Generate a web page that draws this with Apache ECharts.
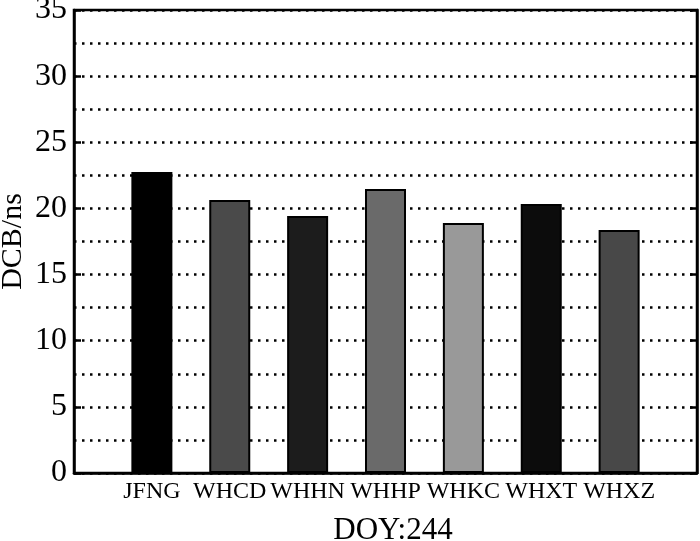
<!DOCTYPE html>
<html>
<head>
<meta charset="utf-8">
<script src="https://cdn.jsdelivr.net/npm/echarts@6/dist/echarts.min.js"></script>
<style>
  html, body { margin: 0; padding: 0; background: #fff; }
  #chart { width: 700px; height: 541px; }
</style>
</head>
<body>
<div id="chart"></div>
<script>
// stations and DCB values (ns), DOY 244
const stations = ['JFNG', 'WHCD', 'WHHN', 'WHHP', 'WHKC', 'WHXT', 'WHXZ'];
const dcbValues = [22.75, 20.64, 19.43, 21.47, 18.9, 20.33, 18.37];
const barColors = ['#000000', '#4a4a4a', '#1c1c1c', '#6a6a6a', '#999999', '#0c0c0c', '#484848'];

const serif = "'Liberation Serif', 'Times New Roman', serif";

// empty slots at both ends so the bars sit inside the frame like the original
const cats = [''].concat(stations, ['']);
const barData = ['-'].concat(dcbValues.map(function (v, i) {
    return { value: v, itemStyle: { color: barColors[i] } };
}), ['-']);

const dotted = { color: '#000', width: 2.5, type: [2.5, 5.5] };

const chart = echarts.init(document.getElementById('chart'));
chart.setOption({
    animation: false,
    backgroundColor: '#fff',
    grid: {
        left: 74, right: 3, top: 10, bottom: 68,
        outerBoundsMode: 'none',
        containLabel: false,
        show: true, borderColor: '#000', borderWidth: 2.5
    },
    xAxis: {
        type: 'category',
        data: cats,
        boundaryGap: false,
        axisLine: { lineStyle: { color: '#000', width: 2.5 } },
        axisTick: { show: false },
        axisLabel: { color: '#000', fontFamily: serif, fontSize: 24, margin: 7, interval: 0, hideOverlap: false },
        name: 'DOY:244',
        nameLocation: 'middle',
        nameGap: 42,
        nameMoveOverlap: false,
        nameTextStyle: { color: '#000', fontFamily: serif, fontSize: 31, padding: [0, 0, 0, 15] }
    },
    yAxis: [{
        type: 'value',
        min: 0, max: 35, interval: 5,
        axisLine: { show: true, lineStyle: { color: '#000', width: 2.5 } },
        axisTick: { show: true, inside: true, length: 7, lineStyle: { color: '#000', width: 2.5 } },
        axisLabel: { color: '#000', fontFamily: serif, fontSize: 32, margin: 7 },
        splitLine: { show: true, lineStyle: dotted },
        minorTick: { show: false, splitNumber: 2 },
        minorSplitLine: { show: true, lineStyle: dotted },
        name: 'DCB/ns',
        nameLocation: 'middle',
        nameGap: 46,
        nameMoveOverlap: false,
        nameTextStyle: { color: '#000', fontFamily: serif, fontSize: 30 }
    }, {
        type: 'value',
        position: 'right',
        min: 0, max: 35, interval: 5,
        axisLine: { show: true, lineStyle: { color: '#000', width: 2.5 } },
        axisTick: { show: true, inside: true, length: 7, lineStyle: { color: '#000', width: 2.5 } },
        axisLabel: { show: false },
        splitLine: { show: false }
    }],
    series: [{
        type: 'bar',
        data: barData,
        barWidth: 41,
        itemStyle: { borderColor: '#000', borderWidth: 2 }
    }]
});
</script>
</body>
</html>
